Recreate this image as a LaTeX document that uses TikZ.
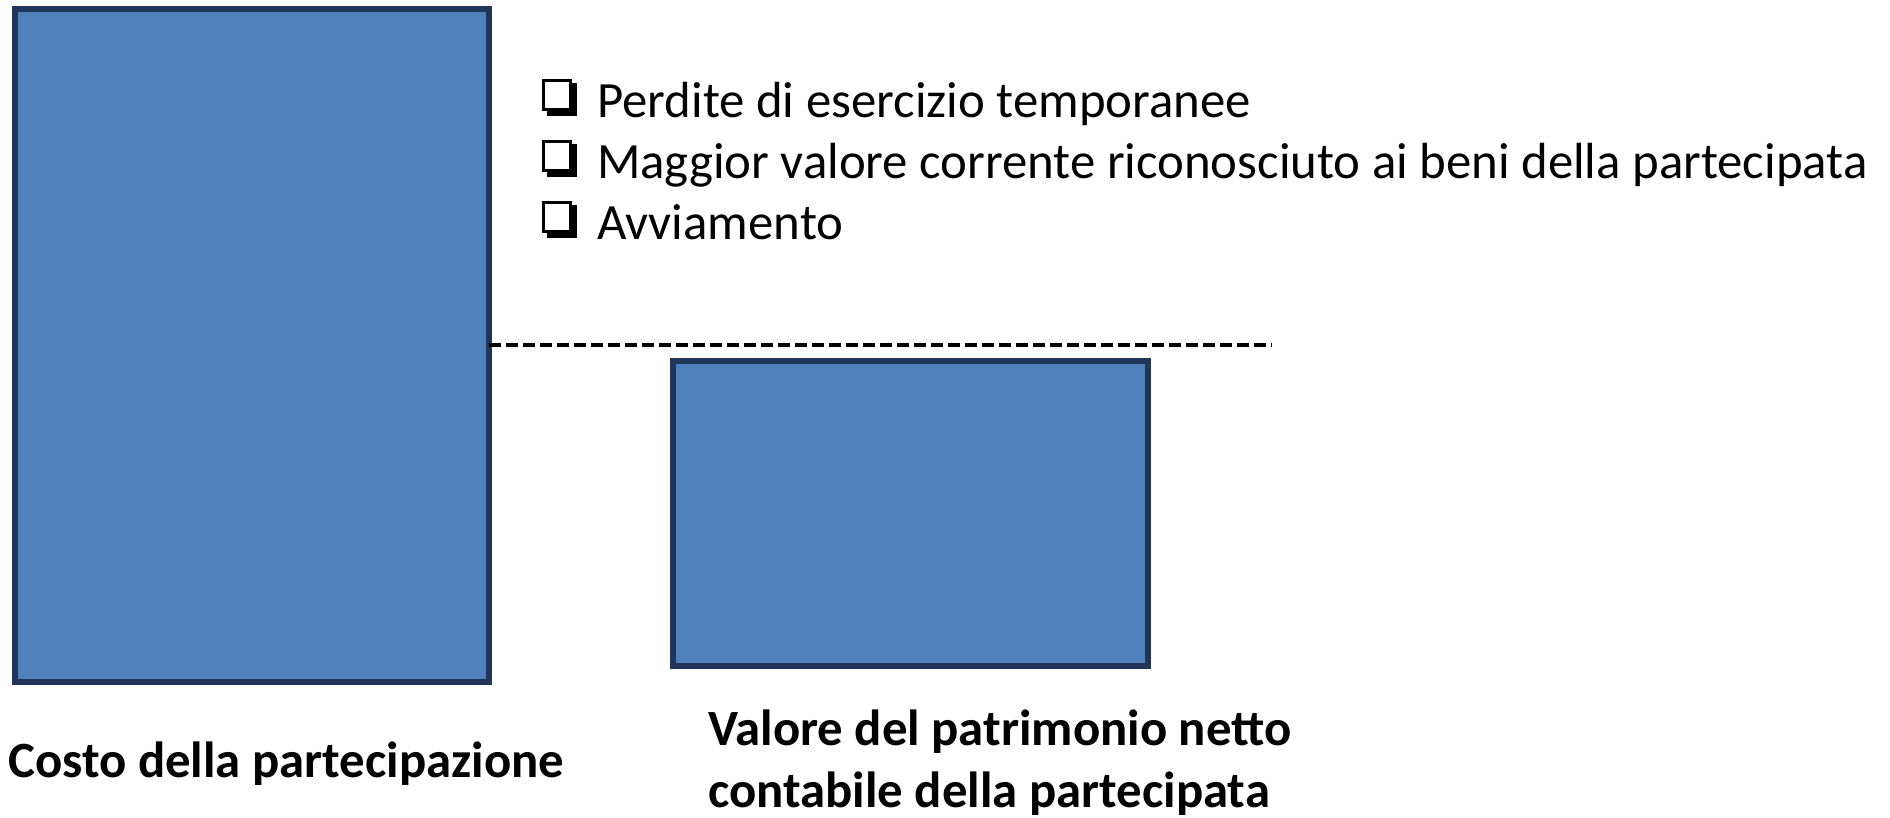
\documentclass[tikz,border=0pt]{standalone}
\usepackage{fontspec}
\setmainfont{Carlito}
\definecolor{barfill}{HTML}{4F81BD}
\definecolor{barline}{HTML}{1F3658}
\tikzset{
  barbox/.style={draw=barline, fill=barfill, line width=5.5pt, inner sep=0pt, outer sep=0pt, anchor=north west},
  dashline/.style={black, line width=3.6pt, dash pattern=on 12pt off 5pt},
  itemtext/.style={anchor=base west, inner sep=0pt, font=\fontsize{50.8pt}{61pt}\selectfont},
  labeltext/.style={anchor=base west, inner sep=0pt, align=left, font=\fontsize{50.8pt}{62pt}\selectfont\bfseries},
}
\newcommand{\wdbox}[1]{%
  \fill[black] ($(#1.base west)+(-50,-34)$) rectangle ($(#1.base west)+(-20,-1)$);
  \draw[black, fill=white, line width=3pt] ($(#1.base west)+(-53.5,-36.5)$) rectangle ($(#1.base west)+(-26.5,-7.5)$);
}
\usetikzlibrary{calc}
\begin{document}
\begin{tikzpicture}[x=1pt, y=-1pt]
\useasboundingbox (0,0) rectangle (1890,817);
\node[barbox, minimum width=474pt, minimum height=673pt] (cost) at (15,9) {};
\node[barbox, minimum width=475pt, minimum height=305pt] (pn) at (673,361) {};
\coordinate (dend) at (1272,345);
\draw[dashline] (cost.east |- dend) -- (dend);
\node[itemtext] (t1) at (597,117) {Perdite di esercizio temporanee};
\node[itemtext] (t2) at (597,178) {Maggior valore corrente riconosciuto ai beni della partecipata};
\node[itemtext] (t3) at (597,239) {Avviamento};
\wdbox{t1}
\wdbox{t2}
\wdbox{t3}
\node[labeltext] (lcost) at (8,777) {Costo della partecipazione};
\node[labeltext] (lpn) at (708,807) {Valore del patrimonio netto\\contabile della partecipata};
\end{tikzpicture}
\end{document}
